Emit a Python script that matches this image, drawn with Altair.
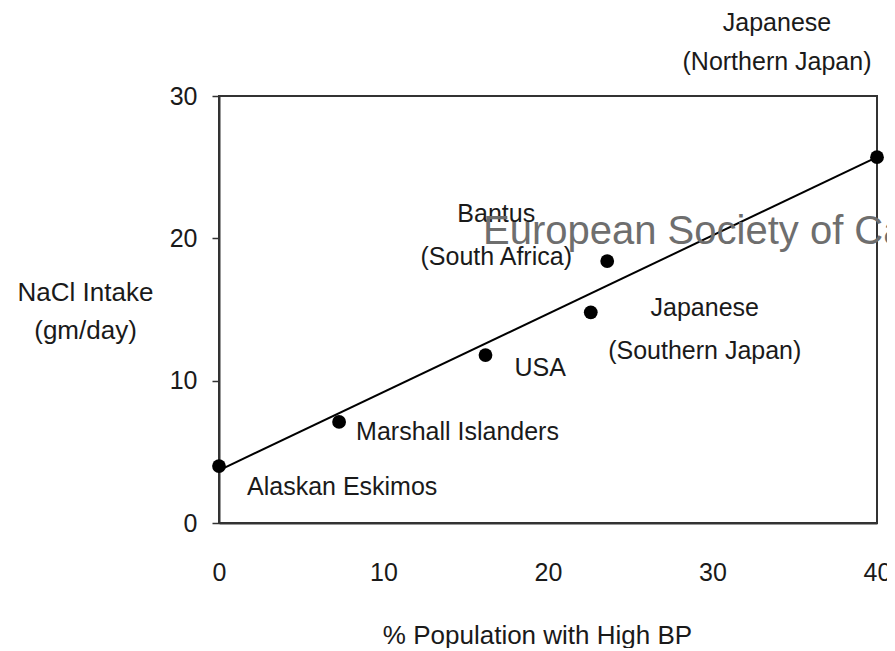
import altair as alt
import pandas as pd

# ---- data ----
groups = ["Alaskan Eskimos", "Marshall Islanders", "USA",
          "Japanese (Southern Japan)", "Bantus (South Africa)", "Japanese (Northern Japan)"]
pct_high_bp = [0.0, 7.3, 16.2, 22.6, 23.6, 40.0]
nacl_intake = [4.0, 7.1, 11.8, 14.8, 18.4, 25.7]
label_lines = [["Alaskan Eskimos"], ["Marshall Islanders"], ["USA"],
               ["Japanese", "(Southern Japan)"], ["Bantus", "(South Africa)"],
               ["Japanese", "(Northern Japan)"]]

fit_x = [0, 40]
fit_y = [3.7, 25.7]

x_ticks = [0, 10, 20, 30, 40]
y_ticks = [0, 10, 20, 30]

watermark_text = ["European Society of Ca"]
watermark_x = [16.05]
watermark_y = [19.6]

# ---- styling ----
FONT = "Liberation Sans, Arial, Helvetica, sans-serif"
FS = 25
TFS = 26
INK = "#1a1a1a"

# label placement (pixel offsets of the first line from each point)
label_style = {
    "Alaskan Eskimos": dict(align="left", dx=28, dy=21, lineHeight=43),
    "Marshall Islanders": dict(align="left", dx=17, dy=10, lineHeight=43),
    "USA": dict(align="left", dx=29, dy=13, lineHeight=43),
    "Japanese (Southern Japan)": dict(align="center", dx=114, dy=-4, lineHeight=43),
    "Bantus (South Africa)": dict(align="center", dx=-111, dy=-47, lineHeight=43),
    "Japanese (Northern Japan)": dict(align="center", dx=-100, dy=-134, lineHeight=39),
}

df = pd.DataFrame({"group": groups, "pct": pct_high_bp, "nacl": nacl_intake,
                   "label": label_lines})
fit_df = pd.DataFrame({"pct": fit_x, "nacl": fit_y})
wm_df = pd.DataFrame({"t": watermark_text, "pct": watermark_x, "nacl": watermark_y})

x_scale = alt.Scale(domain=[0, 40], nice=False, zero=False)
y_scale = alt.Scale(domain=[0, 30], nice=False, zero=False)

x_axis = alt.Axis(values=x_ticks, title="% Population with High BP", grid=False,
                  ticks=False, tickSize=0, labelPadding=49, labelBaseline="middle",
                  labelFont=FONT, labelFontSize=FS, labelColor=INK, labelFlush=False,
                  titleFont=FONT, titleFontSize=TFS, titleFontWeight="normal",
                  titleColor=INK, titleX=318, titleY=120, titleAlign="center",
                  titleBaseline="alphabetic", domainColor="#333", domainWidth=2)
y_axis = alt.Axis(values=y_ticks, title=["NaCl Intake", "(gm/day)"], grid=False,
                  ticks=True, tickSize=7, tickColor="#333", tickWidth=1.5,
                  labelPadding=15, labelFont=FONT, labelFontSize=FS, labelColor=INK,
                  labelFlush=False,
                  titleFont=FONT, titleFontSize=TFS, titleFontWeight="normal",
                  titleColor=INK, titleAngle=0, titleAlign="center",
                  titleBaseline="alphabetic", titleX=-134, titleY=204,
                  titleLineHeight=38, domainColor="#333", domainWidth=2)

X = alt.X("pct:Q", scale=x_scale, axis=x_axis)
Y = alt.Y("nacl:Q", scale=y_scale, axis=y_axis)

fit = alt.Chart(fit_df).mark_line(color="black", strokeWidth=2).encode(x=X, y=Y)

points = alt.Chart(df).mark_circle(color="black", opacity=1, size=190).encode(x=X, y=Y)

label_layers = []
for g in groups:
    st = label_style[g]
    label_layers.append(
        alt.Chart(df).transform_filter(alt.datum.group == g).mark_text(
            font=FONT, fontSize=FS, color=INK, baseline="middle", **st
        ).encode(x=X, y=Y, text="label")
    )

watermark = alt.Chart(wm_df).mark_text(
    font="Liberation Sans, Arial, sans-serif", fontSize=40, color="#6e6e6e",
    align="left", baseline="alphabetic"
).encode(x=X, y=Y, text="t:N")

chart = alt.layer(fit, points, *label_layers, watermark).properties(
    width=658, height=427,
    padding={"left": 211, "top": 88, "right": 10, "bottom": 125},
    autosize=alt.AutoSizeParams(type="none"),
    background="white",
).configure_view(stroke="#333", strokeWidth=2)

chart.save("out.html", embed_options={"renderer": "svg", "actions": False})
